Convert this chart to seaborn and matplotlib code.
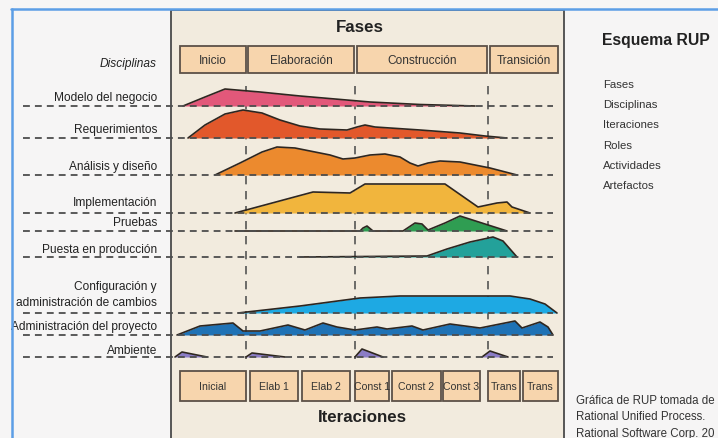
import numpy as np
import matplotlib
matplotlib.use("Agg")
import matplotlib.pyplot as plt
from matplotlib import font_manager
from matplotlib.patches import Rectangle
import seaborn as sns

# ── data (x = time position, h = effort height) ─────────────────────────────
disciplines = ["Modelo del negocio", "Requerimientos", "Análisis y diseño",
               "Implementación", "Pruebas", "Puesta en producción",
               "Configuración y\nadministración de cambios",
               "Administración del proyecto", "Ambiente"]

modelo_x = [183, 205, 225, 260, 300, 370, 420, 475]
modelo_h = [0, 9, 17, 14, 10, 4, 1.5, 0]

requer_x = [188, 205, 225, 243, 262, 280, 300, 320, 347, 357, 365, 375, 390, 420, 460, 485, 507]
requer_h = [0, 13, 24, 28, 25, 18, 12, 9, 8, 11, 13, 11, 10, 8, 5, 2, 0]

analisis_x = [215, 240, 262, 277, 295, 310, 330, 343, 355, 370, 385, 400, 410, 418, 428, 440, 460, 490, 517]
analisis_h = [0, 12, 23, 28, 27, 24, 20, 16, 17, 20, 21, 18, 12, 9, 12, 14, 13, 7, 0]

impl_x = [235, 313, 350, 365, 445, 478, 497, 507, 512, 530]
impl_h = [0, 21, 20, 29, 29, 6, 10, 11, 6, 0]

pruebas_x = [235, 360, 363, 367, 373, 403, 415, 422, 428, 445, 460, 485, 507]
pruebas_h = [0, 0, 3, 5, 0, 0, 8, 7, 1, 8, 15, 7, 0]

puesta_x = [300, 427, 447, 470, 493, 503, 517]
puesta_h = [0, 1, 8, 15, 20, 16, 0]

config_x = [238, 300, 360, 400, 510, 530, 545, 557]
config_h = [0, 7, 15, 17, 17, 14, 9, 0]

admin_x = [177, 200, 233, 243, 260, 288, 305, 323, 337, 355, 377, 387, 412, 423,
           450, 480, 515, 522, 540, 548, 553]
admin_h = [0, 9, 12, 4, 4, 10, 5, 12, 8, 5, 8, 6, 9, 5, 11, 7, 14, 7, 13, 8, 0]

ambiente_x = [[175, 182, 207], [246, 252, 285], [355, 362, 383], [482, 490, 508]]
ambiente_h = [[0, 5, 0], [0, 4, 0], [0, 8, 0], [0, 6, 0]]

profiles_x = [[modelo_x], [requer_x], [analisis_x], [impl_x], [pruebas_x],
              [puesta_x], [config_x], [admin_x], ambiente_x]
profiles_h = [[modelo_h], [requer_h], [analisis_h], [impl_h], [pruebas_h],
              [puesta_h], [config_h], [admin_h], ambiente_h]

phases = ["Inicio", "Elaboración", "Construcción", "Transición"]
phase_bounds = [246, 355, 488]
iterations = ["Inicial", "Elab 1", "Elab 2", "Const 1", "Const 2", "Const 3", "Trans", "Trans"]
side_items = ["Fases", "Disciplinas", "Iteraciones", "Roles", "Actividades", "Artefactos"]
credit = ["Gráfica de RUP tomada de", "Rational Unified Process.",
          "Rational Software Corp. 20"]

# ── layout / style ───────────────────────────────────────────────────────────
row_base = [107, 139, 176, 214, 232, 258, 314, 336, 358]
label_y = [98, 130, 167, 203, 223, 250, 295, 327, 351]
colors = ["#e2587a", "#e2582b", "#ec8a2e", "#f1b53d", "#2f9d52",
          "#23a19a", "#1ea9e3", "#1f72b5", "#8b7cc6"]
phase_box = [(180, 246), (248, 354), (357, 487), (490, 558)]
iter_box = [(180, 246), (250, 298), (302, 350), (355, 389), (392, 441),
            (443, 480), (488, 520), (523, 558)]
BOX_FC, BOX_EC = "#f7d5ad", "#5c5148"
INK = "#2e2620"

sns.set_theme(style="white")
names = {f.name for f in font_manager.fontManager.ttflist}
if "Liberation Sans Narrow" in names:
    FONT, k = "Liberation Sans Narrow", 1.0
else:
    FONT, k = "Liberation Sans", 0.84
plt.rcParams["font.family"] = [FONT, "DejaVu Sans"]

fig = plt.figure(figsize=(7.18, 4.39), dpi=100, facecolor="#f6f5f5")
ax = fig.add_axes([0, 0, 1, 1])
ax.set_xlim(0, 718)
ax.set_ylim(439, 0)
ax.axis("off")

# panel
ax.add_patch(Rectangle((171, 11), 393, 440, fc="#f2ebde", ec="#4a4a4a", lw=1.3, zorder=0))
ax.plot([11.5, 11.5], [10, 439], color="#5c9ee6", lw=1.8, zorder=6)
ax.plot([11, 718], [10, 10], color="#5c9ee6", lw=1.8, zorder=6)

# vertical phase boundaries
for xb in phase_bounds:
    ax.plot([xb, xb], [87, 360], color="#555555", lw=1.2, ls=(0, (5, 4)), zorder=1)

# humps
for i, (xs_list, hs_list) in enumerate(zip(profiles_x, profiles_h)):
    base = row_base[i]
    for xs, hs in zip(xs_list, hs_list):
        xs = np.asarray(xs, float)
        ys = base - np.asarray(hs, float)
        ax.fill_between(xs, ys, base, color=colors[i], lw=0, zorder=2)
        sns.lineplot(x=xs, y=ys, ax=ax, color=INK, lw=1.2, sort=False,
                     estimator=None, zorder=3)
    ax.plot([23, 553], [base, base], color="#4d4d4d", lw=1.3,
            ls=(0, (3.8, 2.8)), zorder=4)
    ax.text(157, label_y[i], disciplines[i], ha="right", va="center",
            fontsize=10.2 * k, color="#222222", linespacing=1.35, zorder=5)

ax.text(157, 64, "Disciplinas", ha="right", va="center", fontsize=10.2 * k,
        style="italic", color="#222222")

# phase and iteration boxes
for (x0, x1), lab in zip(phase_box, phases):
    ax.add_patch(Rectangle((x0, 47), x1 - x0, 27, fc=BOX_FC, ec=BOX_EC, lw=1.3, zorder=2))
    ax.text((x0 + x1) / 2, 60.5, lab, ha="center", va="center",
            fontsize=10.2 * k, color="#333333")
for (x0, x1), lab in zip(iter_box, iterations):
    ax.add_patch(Rectangle((x0, 372), x1 - x0, 30, fc=BOX_FC, ec=BOX_EC, lw=1.3, zorder=2))
    ax.text((x0 + x1) / 2, 387, lab, ha="center", va="center",
            fontsize=9.0 * k, color="#333333")

ax.text(360, 27, "Fases", ha="center", va="center", fontsize=14.5 * k,
        weight="bold", color="#222222")
ax.text(362, 418, "Iteraciones", ha="center", va="center", fontsize=14.5 * k,
        weight="bold", color="#222222")

# right-hand notes
ax.text(602, 40, "Esquema RUP", ha="left", va="center", fontsize=13.5 * k,
        weight="bold", color="#222222")
for j, item in enumerate(side_items):
    ax.text(603, 85 + j * 20.2, item, ha="left", va="center",
            fontsize=9.8 * k, color="#333333")
for j, line in enumerate(credit):
    ax.text(576, 401 + j * 16.5, line, ha="left", va="center",
            fontsize=9.9 * k, color="#333333")

fig.savefig("out.png", dpi=100, facecolor=fig.get_facecolor())
